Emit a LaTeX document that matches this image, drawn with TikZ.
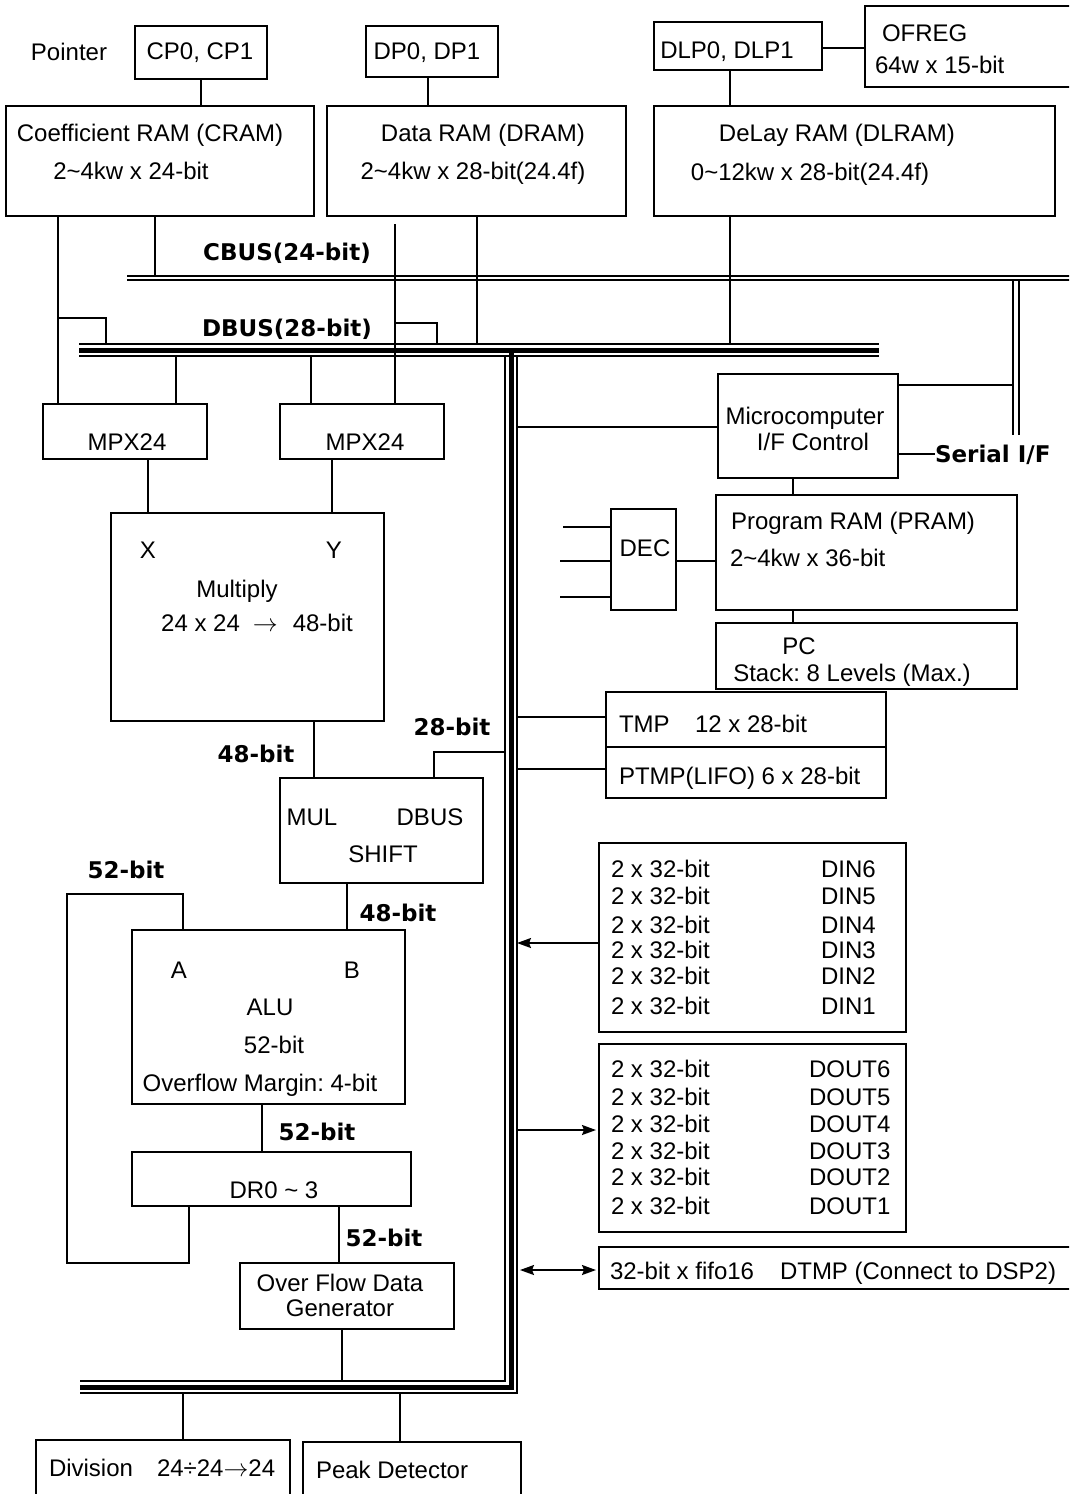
\documentclass[tikz,border=0pt]{standalone}
\usepackage{fontspec}
\setmainfont{Liberation Sans}
\newfontfamily\lblfont{DejaVu Sans}
\usetikzlibrary{arrows.meta}
\frenchspacing
\newcommand\myrf{\fontsize{24}{28}\selectfont}
\newcommand\mybf{\lblfont\bfseries\fontsize{23}{27}\selectfont}
\newcommand\mybox[5]{\node[box, minimum width={#4pt-#2pt}, minimum height={#5pt-#3pt}] (#1) at (#2,#3) {};}
\tikzset{
  box/.style={draw, line width=1.3pt, inner sep=0pt, outer sep=0pt, anchor=north west},
  ln/.style={line width=1.3pt},
  busout/.style={line width=1.5pt, line join=miter},
  busmid/.style={line width=5pt, line join=miter},
  tx/.style={inner sep=0pt, outer sep=0pt, anchor=base, font=\myrf},
  txl/.style={tx, anchor=base west},
  bl/.style={inner sep=0pt, outer sep=0pt, anchor=base, font=\mybf},
  arr/.style={line width=1.6pt, -{Stealth[length=14pt,width=10pt,inset=2pt]}},
  darr/.style={line width=1.6pt, {Stealth[length=14pt,width=10pt,inset=2pt]}-{Stealth[length=14pt,width=10pt,inset=2pt]}},
}
\begin{document}
\begin{tikzpicture}[x=1pt,y=-1pt]
\useasboundingbox (0,0) rectangle (1069,1494);
\clip (0,0) rectangle (1069,1494);
\fill[white] (0,0) rectangle (1069,1494);

% helper coordinates
\foreach \v in {58,67,106,148,155,176,183,189,262,311,314,332,339,342,347,395,400,428,434,437,477,505,517,520,595,596,730,793,1013}
  {\coordinate (X\v) at (\v,0);}
\foreach \v in {48,276,318,323,344,356,385,427,454,561,717,752,769,894,943,1130,1263,1270,1381,1393}
  {\coordinate (Y\v) at (0,\v);}

% boxes
\mybox{CP}{135}{26}{267}{79}
\mybox{DP}{366}{26}{498}{77}
\mybox{DLP}{654}{22}{822}{70}
\mybox{OFREG}{865}{6}{1080}{87}
\mybox{CRAM}{6}{106}{314}{216}
\mybox{DRAM}{327}{106}{626}{216}
\mybox{DLRAM}{654}{106}{1055}{216}
\mybox{MPXL}{43}{404}{207}{459}
\mybox{MPXR}{280}{404}{444}{459}
\mybox{MUL}{111}{513}{384}{721}
\mybox{SHIFT}{280}{778}{483}{883}
\mybox{ALU}{132}{930}{405}{1104}
\mybox{DR}{132}{1152}{411}{1206}
\mybox{OFG}{240}{1263}{454}{1329}
\mybox{DIV}{36}{1440}{290}{1510}
\mybox{PEAK}{303}{1442}{521}{1510}
\mybox{MICRO}{718}{374}{898}{478}
\mybox{DEC}{611}{509}{676}{610}
\mybox{PRAM}{716}{495}{1017}{610}
\mybox{PC}{716}{623}{1017}{689}
\mybox{TMP}{606}{692}{886}{747}
\mybox{PTMP}{606}{747}{886}{798}
\mybox{DIN}{599}{843}{906}{1032}
\mybox{DOUT}{599}{1044}{906}{1232}
\mybox{DTMP}{599}{1247}{1080}{1289}

% texts
\node[tx] (tPointer) at (69,60) {Pointer};
\node[tx] (tCP) at (200,59) {CP0, CP1};
\node[tx] (tDP) at (427,59) {DP0, DP1};
\node[tx] (tDLP) at (727,58) {DLP0, DLP1};
\node[txl] (tOF1) at (882,41) {OFREG};
\node[txl] (tOF2) at (875,73) {64w x 15-bit};
\node[tx] (tCR1) at (150,141) {Coefficient RAM (CRAM)};
\node[tx] (tCR2) at (131,179) {2\textasciitilde 4kw x 24-bit};
\node[tx] (tDR1) at (483,141) {Data RAM (DRAM)};
\node[tx] (tDR2) at (473,179) {2\textasciitilde 4kw x 28-bit(24.4f)};
\node[tx] (tDL1) at (837,141) {DeLay RAM (DLRAM)};
\node[tx] (tDL2) at (810,180) {0\textasciitilde 12kw x 28-bit(24.4f)};
\node[bl] (lCBUS) at (287,260) {CBUS(24-bit)};
\node[bl] (lDBUS) at (287,336) {DBUS(28-bit)};
\node[tx] (tMPXL) at (127,450) {MPX24};
\node[tx] (tMPXR) at (365,450) {MPX24};
\node[tx] (tX) at (148,558) {X};
\node[tx] (tY) at (334,558) {Y};
\node[tx] (tMul) at (237,597) {Multiply};
\node[tx] (tMul2) at (257,631) {24 x 24\hspace{13pt}$\rightarrow$\hspace{15pt}48-bit};
\node[bl] (l48a) at (256,762) {48-bit};
\node[bl] (l28) at (452,735) {28-bit};
\node[tx] (tMULin) at (312,825) {MUL};
\node[tx] (tDBUSin) at (430,825) {DBUS};
\node[tx] (tSHIFT) at (383,862) {SHIFT};
\node[bl] (l52a) at (126,878) {52-bit};
\node[bl] (l48b) at (398,921) {48-bit};
\node[tx] (tA) at (179,978) {A};
\node[tx] (tB) at (352,978) {B};
\node[tx] (tALU) at (270,1015) {ALU};
\node[tx] (tALU2) at (274,1053) {52-bit};
\node[tx] (tALU3) at (260,1091) {Overflow Margin: 4-bit};
\node[bl] (l52b) at (317,1140) {52-bit};
\node[tx] (tDR) at (274,1198) {DR0 \textasciitilde\ 3};
\node[bl] (l52c) at (384,1246) {52-bit};
\node[tx] (tOFG1) at (340,1291) {Over Flow Data};
\node[tx] (tOFG2) at (340,1316) {Generator};
\node[txl] (tDIV) at (49,1476) {Division\hspace{24pt}24÷24$\rightarrow$24};
\node[txl] (tPEAK) at (316,1478) {Peak Detector};
\node[tx] (tMIC1) at (805,424) {Microcomputer};
\node[tx] (tMIC2) at (813,450) {I/F Control};
\node[bl, anchor=base west] (lSER) at (935,462) {Serial I/F};
\node[txl] (tPR1) at (731,529) {Program RAM (PRAM)};
\node[txl] (tPR2) at (730,566) {2\textasciitilde 4kw x 36-bit};
\node[tx] (tDEC) at (645,556) {DEC};
\node[tx] (tPC1) at (799,654) {PC};
\node[tx] (tPC2) at (852,681) {Stack: 8 Levels (Max.)};
\node[txl] (tTMP1) at (619,732) {TMP};
\node[txl] (tTMP2) at (695,732) {12 x 28-bit};
\node[txl] (tPTMP) at (619,784) {PTMP(LIFO) 6 x 28-bit};
\foreach \n/\y in {6/877,5/904,4/933,3/958,2/984,1/1014}{
  \node[txl] (dinA\n) at (611,\y) {2 x 32-bit};
  \node[txl] (dinB\n) at (821,\y) {DIN\n};
}
\foreach \n/\y in {6/1077,5/1105,4/1132,3/1159,2/1185,1/1214}{
  \node[txl] (doutA\n) at (611,\y) {2 x 32-bit};
  \node[txl] (doutB\n) at (809,\y) {DOUT\n};
}
\node[txl] (tDT1) at (610,1279) {32-bit x fifo16};
\node[txl] (tDT2) at (780,1279) {DTMP (Connect to DSP2)};

% connectors
\draw[ln] (CP.south) -- (CP.south |- CRAM.north);
\draw[ln] (DP.south -| X428) -- (DRAM.north -| X428);
\draw[ln] (DLP.south -| X730) -- (DLRAM.north -| X730);
\draw[ln] (DLP.east |- Y48) -- (OFREG.west |- Y48);
\draw[ln] (CRAM.south -| X155) -- (X155 |- Y276);
\draw[ln] (CRAM.south -| X58) -- (MPXL.north -| X58);
\draw[ln] (X58 |- Y318) -- (X106 |- Y318) -- (X106 |- Y344);
\draw[ln] (X176 |- Y356) -- (MPXL.north -| X176);
\draw[ln] (X311 |- Y356) -- (MPXR.north -| X311);
\coordinate (f395) at (395,224);
\draw[ln] (f395) -- (MPXR.north -| f395);
\draw[ln] (X395 |- Y323) -- (X437 |- Y323) -- (X437 |- Y344);
\draw[ln] (DRAM.south -| X477) -- (X477 |- Y344);
\draw[ln] (DLRAM.south -| X730) -- (X730 |- Y344);
\draw[ln] (MPXL.south -| X148) -- (MUL.north -| X148);
\draw[ln] (MPXR.south -| X332) -- (MUL.north -| X332);
\draw[ln] (MUL.south -| X314) -- (SHIFT.north -| X314);
\draw[ln] (X505 |- Y752) -- (X434 |- Y752) -- (SHIFT.north -| X434);
\draw[ln] (SHIFT.south -| X347) -- (ALU.north -| X347);
\draw[ln] (DR.south -| X189) -- (X189 |- Y1263) -- (X67 |- Y1263) -- (X67 |- Y894) -- (X183 |- Y894) -- (ALU.north -| X183);
\draw[ln] (ALU.south -| X262) -- (DR.north -| X262);
\draw[ln] (DR.south -| X339) -- (OFG.north -| X339);
\draw[ln] (OFG.south -| X342) -- (X342 |- Y1381);
\draw[ln] (X183 |- Y1393) -- (DIV.north -| X183);
\draw[ln] (X400 |- Y1393) -- (PEAK.north -| X400);
\draw[ln] (X517 |- Y427) -- (MICRO.west |- Y427);
\draw[ln] (MICRO.east |- Y385) -- (X1013 |- Y385);
\draw[ln] (MICRO.east |- Y454) -- (lSER.west |- Y454);
\draw[ln] (MICRO.south -| X793) -- (PRAM.north -| X793);
\draw[ln] (DEC.east |- Y561) -- (PRAM.west |- Y561);
\coordinate (in1) at (563,527);
\coordinate (in2) at (560,561);
\coordinate (in3) at (560,597);
\draw[ln] (in1) -- (DEC.west |- in1);
\draw[ln] (in2) -- (DEC.west |- in2);
\draw[ln] (in3) -- (DEC.west |- in3);
\draw[ln] (PRAM.south -| X793) -- (PC.north -| X793);
\draw[ln] (X517 |- Y717) -- (TMP.west |- Y717);
\draw[ln] (X517 |- Y769) -- (PTMP.west |- Y769);
\draw[arr] (DIN.west |- Y943) -- (X517 |- Y943);
\draw[arr] (X517 |- Y1130) -- (X596 |- Y1130);
\draw[darr] (X520 |- Y1270) -- (X596 |- Y1270);

% CBUS (double)
\coordinate (cbL) at (127,278);
\coordinate (cbR) at (1075,278);
\draw[ln] ([yshift=2pt]cbL) -- ([yshift=2pt]cbR);
\draw[ln] ([yshift=-2pt]cbL) -- ([yshift=-2pt]cbR);
% Serial bar (double)
\coordinate (sbT) at (1016,280);
\coordinate (sbB) at (1016,435);
\draw[ln] ([xshift=-3pt]sbT) -- ([xshift=-3pt]sbB);
\draw[ln] ([xshift=3pt]sbT) -- ([xshift=3pt]sbB);
% DBUS (triple)
\coordinate (dbL) at (79,350);
\coordinate (dbR) at (879,350);
\draw[busout] ([yshift=6pt]dbL) -- ([yshift=6pt]dbR);
\draw[busmid] (dbL) -- (dbR);
\draw[busout] ([yshift=-6pt]dbL) -- ([yshift=-6pt]dbR);
% vertical + bottom bus (triple)
\coordinate (vt) at (511,350);
\coordinate (vc) at (511,1387);
\coordinate (bbl) at (80,1387);
\draw[busmid] (vt) -- (vc) -- (bbl);
\draw[busout] ([shift={(-6pt,-6pt)}]vt) -- ([shift={(-6pt,6pt)}]vc) -- ([yshift=6pt]bbl);
\draw[busout] ([shift={(6pt,-6pt)}]vt) -- ([shift={(6pt,-6pt)}]vc) -- ([yshift=-6pt]bbl);
\end{tikzpicture}
\end{document}
